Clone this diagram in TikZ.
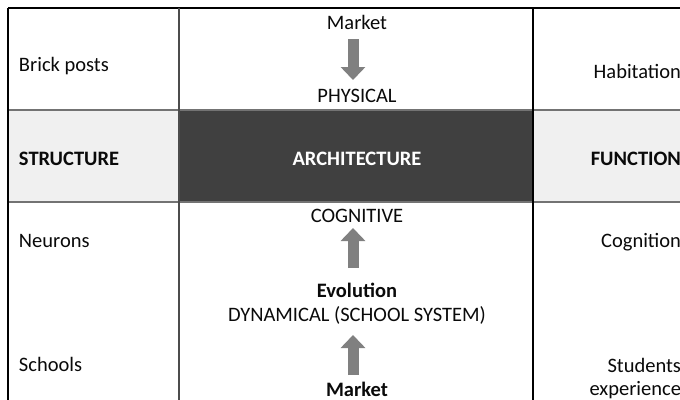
\documentclass[tikz,border=0pt]{standalone}
\usepackage{fontspec}
\setmainfont{Carlito}
\usetikzlibrary{arrows.meta}
\definecolor{bandlight}{HTML}{F0F0F0}
\definecolor{banddark}{HTML}{404040}
\definecolor{arrowgray}{HTML}{808080}
\definecolor{txt}{HTML}{0A0A0A}
\begin{document}
\begin{tikzpicture}[x=1pt,y=-1pt,
  every node/.style={inner sep=0pt,outer sep=0pt,font=\fontsize{20.5}{24}\selectfont,text=txt},
  lefttxt/.style={anchor=base west},
  midtxt/.style={anchor=base},
  righttxt/.style={anchor=base east},
  boldtxt/.style={font=\fontsize{20.5}{24}\selectfont\bfseries},
  blockarrow/.style={draw=arrowgray,line width=11pt,-{Triangle[width=24pt,length=13pt]},arrowgray},
  gridline/.style={line width=1.2pt,draw=black},
  bandline/.style={line width=1.5pt,draw=arrowgray!90!black}
]
\useasboundingbox (0,0) rectangle (680,399);
\clip (0,0) rectangle (680,399);
\fill[white] (0,0) rectangle (680,399);
% middle band
\fill[bandlight] (8,110) rectangle (179,202);
\fill[banddark] (179,110) rectangle (533,202);
\fill[bandlight] (533,110) rectangle (681,202);
\draw[bandline] (8,110) -- (681,110);
\draw[bandline] (8,202) -- (681,202);
% grid
\draw[gridline] (8,8) -- (681,8);
\draw[gridline] (8,8) -- (8,400);
\draw[line width=1.2pt,draw=black!70] (179,8) -- (179,400);
\draw[gridline] (533,8) -- (533,400);
% left column
\node[lefttxt] (brick) at (19,71) {Brick posts};
\node[lefttxt,boldtxt] (struct) at (19,165) {STRUCTURE};
\node[lefttxt] (neur) at (19,247) {Neurons};
\node[lefttxt] (school) at (19,371) {Schools};
% middle column
\node[midtxt] (mkt) at (357,29) {Market};
\node[midtxt] (phys) at (357,102) {PHYSICAL};
\node[midtxt,boldtxt,text=white] (arch) at (357,165) {ARCHITECTURE};
\node[midtxt] (cog) at (357,222) {COGNITIVE};
\node[midtxt,boldtxt] (evo) at (357,297) {Evolution};
\node[midtxt] (dyn) at (357,321) {DYNAMICAL (SCHOOL SYSTEM)};
\node[midtxt,boldtxt] (mkt2) at (357,396) {Market};
% right column
\node[righttxt] (hab) at (681,78) {Habitation};
\node[righttxt,boldtxt] (func) at (681,165) {FUNCTION};
\node[righttxt] (cogn) at (681,247) {Cognition};
\node[righttxt] (stud) at (681,372) {Students};
\node[righttxt] (exper) at (681,395) {experience};
% arrows
\draw[blockarrow,shorten <=10pt,shorten >=22pt] ([xshift=-4pt]mkt.base) -- ([xshift=-4pt]phys.base);
\draw[blockarrow,shorten <=29pt,shorten >=6pt] ([xshift=-4pt]evo.base) -- ([xshift=-4pt]cog.base);
\draw[blockarrow,shorten <=21pt,shorten >=14pt] ([xshift=-4pt]mkt2.base) -- ([xshift=-4pt]dyn.base);
\end{tikzpicture}
\end{document}
